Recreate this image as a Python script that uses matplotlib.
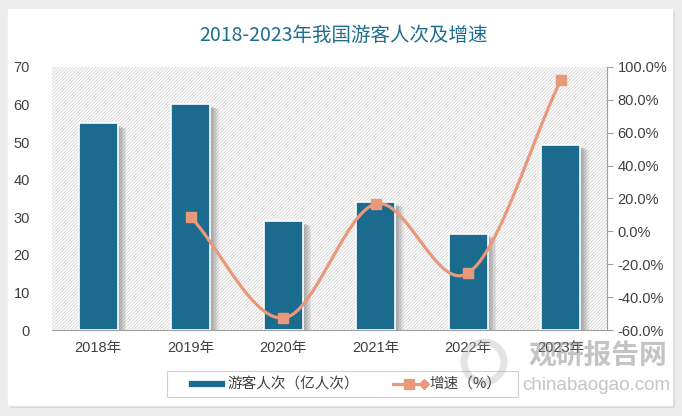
import numpy as np
import matplotlib.pyplot as plt
from matplotlib.patches import Rectangle
import matplotlib.patheffects as pe
from matplotlib.ticker import FuncFormatter

plt.rcParams['font.family'] = ['Liberation Sans', 'Noto Sans CJK SC', 'DejaVu Sans']
plt.rcParams['hatch.color'] = '#d9d9d9'
plt.rcParams['hatch.linewidth'] = 0.7

# --- data ---
years = ['2018年', '2019年', '2020年', '2021年', '2022年', '2023年']
visitors = [55.0, 60.1, 29.0, 34.0, 25.6, 49.2]          # 亿人次
growth = [None, 8.8, -52.7, 16.7, -25.3, 92.0]             # %

BAR_COLOR = '#1b6b8f'
LINE_COLOR = '#e8997a'
TITLE_COLOR = '#1f6e8f'
TEXT_COLOR = '#404040'

fig = plt.figure(figsize=(6.82, 4.16), dpi=100)
fig.patch.set_facecolor('#ececec')

# white card
card = fig.add_axes([0, 0, 1, 1], zorder=-5)
card.set_xlim(0, 682)
card.set_ylim(416, 0)
card.axis('off')
card.add_patch(Rectangle((10, 11), 664, 396, color='#d0d0d0', alpha=0.5))
card.add_patch(Rectangle((8, 9), 664, 396, color='white'))

fig.text(343 / 682, 1 - 35 / 416, '2018-2023年我国游客人次及增速', ha='center', va='center',
         fontsize=14, color=TITLE_COLOR, family=['Liberation Sans Narrow', 'Noto Sans CJK SC'])

ax = fig.add_axes([52 / 682, 1 - 330 / 416, 555 / 682, 263 / 416])
ax.patch.set_facecolor('white')
ax.patch.set_hatch('//////////')
ax.patch.set_edgecolor('#d9d9d9')
ax.patch.set_linewidth(0)

x = np.arange(len(years))
bars = ax.bar(x, visitors, width=0.42, color=BAR_COLOR, edgecolor='white', linewidth=1.2, zorder=3)
soft_shadow = [pe.SimplePatchShadow(offset=(d, -d * 0.6), shadow_rgbFace='#404040', alpha=0.09)
               for d in (6, 5, 4, 3, 2)]
for b in bars:
    b.set_path_effects(soft_shadow + [pe.Normal()])

ax.set_xlim(-0.5, len(years) - 0.5)
ax.set_ylim(0, 70)
ax.set_yticks(range(0, 71, 10))
ax.set_xticks(x)
ax.set_xticklabels(years)
for s in ['top', 'right', 'left']:
    ax.spines[s].set_visible(False)
ax.spines['bottom'].set_color('#a0a0a0')
ax.tick_params(axis='y', length=0, pad=16, labelsize=10.5, labelcolor=TEXT_COLOR)
ax.tick_params(axis='x', length=0, pad=8, labelsize=10.5, labelcolor=TEXT_COLOR)

ax2 = ax.twinx()
ax2.set_ylim(-60, 100)
ax2.set_yticks(range(-60, 101, 20))
ax2.yaxis.set_major_formatter(FuncFormatter(lambda v, p: f'{v:.1f}%'))
for s in ['top', 'left', 'bottom']:
    ax2.spines[s].set_visible(False)
ax2.spines['right'].set_color('#a0a0a0')
ax2.tick_params(axis='y', length=4, color='#a0a0a0', labelsize=10.5, labelcolor=TEXT_COLOR)

# smooth line (Catmull-Rom through the points)
gx = np.array([i for i, g in enumerate(growth) if g is not None], dtype=float)
gy = np.array([g for g in growth if g is not None], dtype=float)
px = np.concatenate([[2 * gx[0] - gx[1]], gx, [2 * gx[-1] - gx[-2]]])
py = np.concatenate([[2 * gy[0] - gy[1]], gy, [2 * gy[-1] - gy[-2]]])
cx, cy = [], []
t = np.linspace(0, 1, 40)
for i in range(1, len(px) - 2):
    p0, p1, p2, p3 = px[i - 1], px[i], px[i + 1], px[i + 2]
    q0, q1, q2, q3 = py[i - 1], py[i], py[i + 1], py[i + 2]
    def cr(a0, a1, a2, a3):
        return 0.5 * (2 * a1 + (-a0 + a2) * t + (2 * a0 - 5 * a1 + 4 * a2 - a3) * t ** 2
                      + (-a0 + 3 * a1 - 3 * a2 + a3) * t ** 3)
    cx.extend(cr(p0, p1, p2, p3))
    cy.extend(cr(q0, q1, q2, q3))
ax2.plot(cx, cy, color=LINE_COLOR, linewidth=2.3, zorder=4, solid_capstyle='round')
ax2.plot(gx, gy, linestyle='none', marker='s', markersize=7, color=LINE_COLOR, zorder=5)

# legend
leg_ax = fig.add_axes([0, 0, 1, 1], zorder=6)
leg_ax.set_xlim(0, 682)
leg_ax.set_ylim(416, 0)
leg_ax.axis('off')
leg_ax.add_patch(Rectangle((167, 371), 351, 26, facecolor='white', edgecolor='#d0d0d0', linewidth=0.8))
leg_ax.plot([192, 222], [384, 384], color=BAR_COLOR, linewidth=4.5)
leg_ax.text(227, 384, '游客人次（亿人次）', va='center', fontsize=10.5, color=TEXT_COLOR,
            family=['Noto Sans CJK SC'])
leg_ax.plot([393, 424], [384, 384], color=LINE_COLOR, linewidth=2.3)
leg_ax.plot([409], [384], marker='s', markersize=7, color=LINE_COLOR)
leg_ax.plot([424], [384], marker='D', markersize=5, color=LINE_COLOR)
leg_ax.text(429, 384, '增速（%）', va='center', fontsize=10.5, color=TEXT_COLOR,
            family=['Noto Sans CJK SC'])

# watermark
leg_ax.text(598, 356, '观研报告网', ha='center', va='center', fontsize=20, fontweight='bold',
            color='#8a8a8a', alpha=0.5, family=['Noto Sans CJK SC'])
leg_ax.text(596, 385, 'chinabaogao.com', ha='center', va='center', fontsize=13.5,
            color='#8a8a8a', alpha=0.5)
leg_ax.add_patch(plt.Circle((484, 362), 20, fill=False, edgecolor='#b0b0b0', linewidth=5, alpha=0.35))

fig.savefig('out.png', dpi=100)
